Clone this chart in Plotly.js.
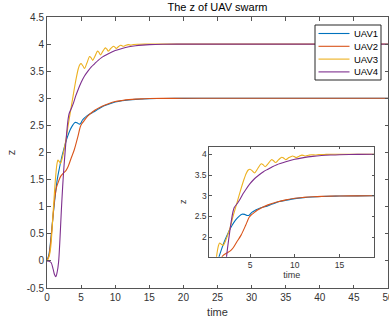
<!DOCTYPE html>
<html>
<head>
<meta charset="utf-8">
<script src="https://cdn.plot.ly/plotly-3.0.1.min.js"></script>
<style>html,body{margin:0;padding:0;background:#fff;}#chart{width:389px;height:329px;}</style>
</head>
<body>
<div id="chart"></div>
<script>
// ---- data ----
const seriesNames = ["UAV1", "UAV2", "UAV3", "UAV4"];
const seriesColors = ["#0072BD", "#D95319", "#EDB120", "#7E2F8E"];

const tUAV1 = [0,0.3,0.6,0.9,1.2,1.5,1.8,2.1,2.4,2.7,3.0,3.4,3.8,4.1,4.4,4.7,4.9,5.2,5.5,5.9,6.4,6.9,7.5,8.3,9,10,11,12,13,14,15,17,20,25,30,40,50];
const zUAV1 = [0,0.13,0.45,0.85,1.2,1.5,1.7,1.88,2.03,2.17,2.29,2.42,2.51,2.555,2.55,2.525,2.53,2.6,2.64,2.68,2.72,2.75,2.8,2.86,2.89,2.93,2.955,2.97,2.98,2.987,2.992,2.997,2.999,3,3,3,3];

const tUAV2 = [0,0.3,0.6,0.9,1.1,1.4,1.7,2.0,2.4,2.8,3.1,3.5,4.0,4.5,4.9,5.1,5.4,5.8,6.3,7,8,9,10,11,12,13,14,15,17,20,25,30,40,50];
const zUAV2 = [0,0.1,0.42,0.85,1.12,1.36,1.47,1.56,1.62,1.67,1.74,1.88,2.05,2.28,2.48,2.53,2.58,2.65,2.71,2.78,2.85,2.9,2.94,2.96,2.975,2.985,2.99,2.995,2.998,3,3,3,3,3];

const tUAV3 = [0,0.3,0.55,0.9,1.2,1.45,1.6,1.8,2.0,2.2,2.5,2.8,3.1,3.5,3.9,4.3,4.6,4.8,5.0,5.25,5.5,5.85,6.25,6.45,6.7,7.05,7.4,7.6,7.85,8.2,8.55,8.75,9.0,9.35,9.75,9.95,10.15,10.5,10.8,11.0,11.2,11.55,11.9,12.3,12.7,13.5,15,17,20,30,40,50];
const zUAV3 = [0,0.08,0.26,0.9,1.45,1.78,1.86,1.83,1.8,1.88,2.05,2.25,2.5,2.8,3.1,3.38,3.55,3.62,3.64,3.6,3.55,3.65,3.77,3.75,3.70,3.78,3.87,3.85,3.80,3.87,3.93,3.91,3.87,3.92,3.96,3.945,3.92,3.955,3.98,3.97,3.96,3.978,3.99,3.982,3.993,3.997,4,4,4,4,4,4];

const tUAV4 = [0,0.3,0.6,0.9,1.1,1.3,1.5,1.7,1.9,2.1,2.3,2.5,2.7,2.9,3.1,3.25,3.6,3.9,4.2,4.5,5.0,5.5,6.0,6.5,7.0,7.5,8.0,9.0,10,11,12,13,14,15,17,20,30,40,50];
const zUAV4 = [0,-0.005,-0.03,-0.15,-0.25,-0.29,-0.2,-0.02,0.4,0.92,1.38,1.76,2.08,2.38,2.62,2.72,2.82,2.92,3.04,3.14,3.29,3.41,3.5,3.58,3.64,3.70,3.75,3.82,3.88,3.92,3.95,3.97,3.982,3.99,3.997,4,4,4,4];

const xTickVals = [0,5,10,15,20,25,30,35,40,45,50];
const yTickVals = [-0.5,0,0.5,1,1.5,2,2.5,3,3.5,4,4.5];
const yTickText = ["-0.5","0","0.5","1","1.5","2","2.5","3","3.5","4","4.5"];
const insetXTickVals = [5,10,15];
const insetYTickVals = [2,2.5,3,3.5,4];
const insetYTickText = ["2","2.5","3","3.5","4"];

const tSeries = [tUAV1, tUAV2, tUAV3, tUAV4];
const zSeries = [zUAV1, zUAV2, zUAV3, zUAV4];

// ---- traces ----
const FONT = "Liberation Sans, Arial, Helvetica, sans-serif";
const AX = "#333333";
const AXLINE = "#555555";
const traces = [];
for (let i = 0; i < 4; i++) {
  traces.push({
    type: "scatter", mode: "lines", name: seriesNames[i],
    x: tSeries[i], y: zSeries[i], xaxis: "x", yaxis: "y",
    line: {color: seriesColors[i], width: 1.1, shape: "spline", smoothing: 0.8},
    showlegend: false, hoverinfo: "skip"
  });
}
for (let i = 0; i < 4; i++) {
  traces.push({
    type: "scatter", mode: "lines", name: seriesNames[i],
    x: tSeries[i], y: zSeries[i], xaxis: "x2", yaxis: "y2",
    line: {color: seriesColors[i], width: 1.1, shape: "spline", smoothing: 0.8},
    showlegend: false, hoverinfo: "skip"
  });
}

function axisBase(extra) {
  return Object.assign({
    showline: true, linecolor: AXLINE, linewidth: 1, mirror: "ticks",
    ticks: "inside", ticklen: 3.5, tickcolor: AXLINE, tickwidth: 1,
    showgrid: false, zeroline: false,
    tickfont: {family: FONT, size: 10, color: AX},
    tickmode: "array"
  }, extra);
}

// ---- legend box (MATLAB style, built from the series names/colours) ----
const PL = 47, PR = 388, PT = 17, PB = 288;
const px2x = p => (p - PL) / (PR - PL);
const py2y = p => (PB - p) / (PB - PT);
const shapes = [{type: "rect", xref: "paper", yref: "paper",
  x0: px2x(315), x1: px2x(381), y0: py2y(80), y1: py2y(25),
  line: {color: "#262626", width: 1}, fillcolor: "#ffffff", layer: "above"}];
const annotations = [];
for (let i = 0; i < seriesNames.length; i++) {
  const yy = py2y(33.5 + 12.8 * i);
  shapes.push({type: "line", xref: "paper", yref: "paper",
    x0: px2x(318.5), x1: px2x(349.5), y0: yy, y1: yy,
    line: {color: seriesColors[i], width: 1.1}, layer: "above"});
  annotations.push({xref: "paper", yref: "paper", x: px2x(351.5), y: yy,
    xanchor: "left", yanchor: "middle", showarrow: false, text: seriesNames[i],
    font: {family: FONT, size: 9.5, color: "#000000"}});
}

const layout = {
  width: 389, height: 329,
  margin: {l: PL, r: 389 - PR, t: PT, b: 329 - PB},
  paper_bgcolor: "#ffffff", plot_bgcolor: "#ffffff",
  font: {family: FONT, color: AX},
  showlegend: false,
  title: {text: "The z of UAV swarm", font: {family: FONT, size: 11, color: "#000000"},
          xref: "paper", x: 0.5, xanchor: "center", yref: "container", y: 0.979, yanchor: "middle"},
  xaxis: axisBase({range: [0, 50], tickvals: xTickVals, domain: [0, 1], anchor: "y", ticklabeloverflow: "allow",
    title: {text: "time", font: {family: FONT, size: 11, color: AX}, standoff: 6}}),
  yaxis: axisBase({range: [-0.5, 4.5], tickvals: yTickVals, ticktext: yTickText, domain: [0, 1], anchor: "x",
    title: {text: "z", font: {family: FONT, size: 11, color: AX}, standoff: 8}}),
  xaxis2: axisBase({range: [0.45, 18.9], tickvals: insetXTickVals, domain: [0.476, 0.960], anchor: "y2",
    tickfont: {family: FONT, size: 8.5, color: AX}, ticklen: 2.5,
    title: {text: "time", font: {family: FONT, size: 9, color: AX}, standoff: 2}}),
  yaxis2: axisBase({range: [1.53, 4.18], tickvals: insetYTickVals, ticktext: insetYTickText, domain: [0.1155, 0.521], anchor: "x2",
    tickfont: {family: FONT, size: 8.5, color: AX}, ticklen: 2.5,
    title: {text: "z", font: {family: FONT, size: 9, color: AX}, standoff: 6}}),
  shapes: shapes,
  annotations: annotations
};

Plotly.newPlot("chart", traces, layout, {displayModeBar: false, staticPlot: true});
</script>
</body>
</html>
